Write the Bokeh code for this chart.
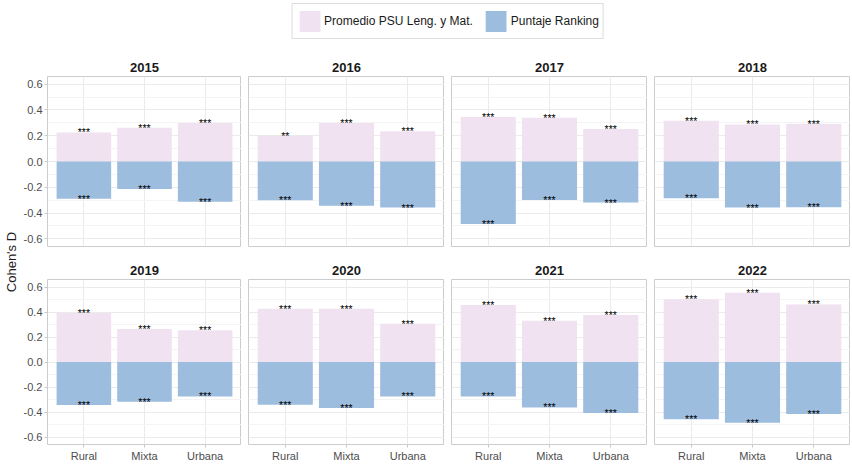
import math
from bokeh.plotting import figure
from bokeh.models import (Range1d, FactorRange, FixedTicker, CategoricalTicker, ColumnDataSource,
                          Legend, LegendItem, Label, NumeralTickFormatter)
from bokeh.layouts import row, column
from bokeh.core.properties import value
from bokeh.embed import file_html
from bokeh.resources import INLINE

# ---------------- data ----------------
categories = ["Rural", "Mixta", "Urbana"]
years = ["2015", "2016", "2017", "2018", "2019", "2020", "2021", "2022"]

# Promedio PSU Leng. y Mat. (positive Cohen's D), per year: Rural, Mixta, Urbana
psu_by_year = [
    [0.226, 0.262, 0.299],
    [0.200, 0.299, 0.234],
    [0.345, 0.340, 0.252],
    [0.317, 0.288, 0.293],
    [0.392, 0.265, 0.254],
    [0.426, 0.426, 0.307],
    [0.456, 0.331, 0.376],
    [0.503, 0.554, 0.461],
]
# Puntaje Ranking (negative Cohen's D)
ranking_by_year = [
    [-0.290, -0.213, -0.312],
    [-0.301, -0.343, -0.358],
    [-0.486, -0.299, -0.319],
    [-0.286, -0.358, -0.356],
    [-0.344, -0.318, -0.275],
    [-0.342, -0.368, -0.275],
    [-0.275, -0.363, -0.408],
    [-0.458, -0.485, -0.416],
]
psu_sig_by_year = [
    ["***", "***", "***"],
    ["**", "***", "***"],
    ["***", "***", "***"],
    ["***", "***", "***"],
    ["***", "***", "***"],
    ["***", "***", "***"],
    ["***", "***", "***"],
    ["***", "***", "***"],
]
ranking_sig_by_year = [["***", "***", "***"] for _ in years]

y_ticks = [-0.6, -0.4, -0.2, 0.0, 0.2, 0.4, 0.6]
y_tick_labels = ["-0.6", "-0.4", "-0.2", "0.0", "0.2", "0.4", "0.6"]
y_minor = [-0.5, -0.3, -0.1, 0.1, 0.3, 0.5]
series_names = ["Promedio PSU Leng. y Mat.", "Puntaje Ranking"]
y_label = "Cohen's D"

# ---------------- style ----------------
PINK = "#F0E2F0"
BLUE = "#9DBDDE"
FONT = "Liberation Sans"
GRID_MAJOR = "#EBEBEB"
GRID_MINOR = "#F4F4F4"
BORDER = "#CCCCCC"
TICK_TXT = "#4D4D4D"

FRAME_W = 196
GAP = 7
LEFT_AX = 25
YLAB_W = 20
LEG_H = 50
TOP_BORDER_1 = 26
TOP_BORDER_2 = 27
TOP_H = TOP_BORDER_1 + 170 + 6
BOT_H = TOP_BORDER_2 + 168 + 17


def make_panel(idx, left, bottom):
    w = (LEFT_AX if left else GAP) + FRAME_W
    h = BOT_H if bottom else TOP_H
    p = figure(width=w, height=h,
               x_range=FactorRange(factors=categories, range_padding=0.1,
                                   range_padding_units="absolute"),
               y_range=Range1d(-0.66, 0.66),
               output_backend="svg", toolbar_location=None,
               x_axis_location="below" if bottom else None,
               y_axis_location="left" if left else None,
               min_border_left=LEFT_AX if left else GAP, min_border_right=0,
               min_border_top=TOP_BORDER_2 if bottom else TOP_BORDER_1,
               min_border_bottom=17 if bottom else 6,
               title=years[idx])
    p.title.align = "center"
    p.title.text_font = FONT
    p.title.text_font_size = "13px"
    p.title.text_font_style = "bold"
    p.title.text_color = "#1A1A1A"
    p.title.standoff = 10
    p.outline_line_color = BORDER
    p.outline_line_width = 1
    p.background_fill_color = "white"
    p.border_fill_color = "white"

    p.ygrid.ticker = FixedTicker(ticks=y_ticks, minor_ticks=y_minor)
    p.ygrid.grid_line_color = GRID_MAJOR
    p.ygrid.minor_grid_line_color = GRID_MINOR
    p.xgrid.ticker = CategoricalTicker()
    p.xgrid.grid_line_color = GRID_MAJOR

    if left:
        ax = p.yaxis[0]
        ax.ticker = FixedTicker(ticks=y_ticks)
        ax.formatter = NumeralTickFormatter(format="0.0")
        ax.major_label_overrides = {t: l for t, l in zip(y_ticks, y_tick_labels)}
        ax.axis_line_color = None
        ax.major_tick_line_color = "#C8C8C8"
        ax.major_tick_out = 3
        ax.major_tick_in = 0
        ax.minor_tick_line_color = None
        ax.major_label_standoff = 2
        ax.major_label_text_font = FONT
        ax.major_label_text_font_size = "11px"
        ax.major_label_text_color = TICK_TXT
    if bottom:
        ax = p.xaxis[0]
        ax.axis_line_color = None
        ax.major_tick_line_color = "#C8C8C8"
        ax.major_tick_out = 3
        ax.major_tick_in = 0
        ax.major_label_standoff = 2
        ax.major_label_text_font = FONT
        ax.major_label_text_font_size = "11px"
        ax.major_label_text_color = TICK_TXT

    src = ColumnDataSource(dict(cat=categories, psu=psu_by_year[idx], rnk=ranking_by_year[idx],
                                psu_sig=psu_sig_by_year[idx], rnk_sig=ranking_sig_by_year[idx]))
    p.vbar(x="cat", top="psu", bottom=0, width=0.9, source=src,
           fill_color=PINK, line_color=None)
    p.vbar(x="cat", top=0, bottom="rnk", width=0.9, source=src,
           fill_color=BLUE, line_color=None)
    for col, sig in (("psu", "psu_sig"), ("rnk", "rnk_sig")):
        p.text(x="cat", y=col, text=sig, source=src, text_align="center",
               text_baseline="middle", text_font=value(FONT), text_font_size="10.5px",
               text_color="#000000")
    return p


panels = []
for i in range(len(years)):
    r, c = divmod(i, 4)
    panels.append(make_panel(i, left=(c == 0), bottom=(r == 1)))

# legend strip
total_w = YLAB_W + LEFT_AX + 4 * FRAME_W + 3 * GAP
leg = figure(width=total_w, height=LEG_H, x_range=Range1d(0, 1), y_range=Range1d(0, 1),
             output_backend="svg", toolbar_location=None,
             x_axis_location=None, y_axis_location=None,
             min_border_left=YLAB_W + LEFT_AX, min_border_right=0,
             min_border_top=0, min_border_bottom=0)
leg.grid.visible = False
leg.outline_line_color = None
# zero-height placeholder bars: only their colours feed the legend keys
r1 = leg.vbar(x=[0.5], top=[0], bottom=[0], width=0.1, fill_color=PINK, line_color=None)
r2 = leg.vbar(x=[0.5], top=[0], bottom=[0], width=0.1, fill_color=BLUE, line_color=None)
legend = Legend(items=[LegendItem(label=series_names[0], renderers=[r1]),
                       LegendItem(label=series_names[1], renderers=[r2])],
                orientation="horizontal", location="top_center", margin=3,
                padding=4, spacing=10, glyph_width=26, glyph_height=26, label_standoff=2,
                border_line_color="#BBBBBB", border_line_width=1,
                label_text_font=FONT, label_text_font_size="12px",
                label_text_color="#1A1A1A")
leg.add_layout(legend, "center")

# y-axis label strip
ylab = figure(width=YLAB_W, height=TOP_H + BOT_H, x_range=Range1d(0, 1), y_range=Range1d(0, 1),
              output_backend="svg", toolbar_location=None,
              x_axis_location=None, y_axis_location=None, min_border=0)
ylab.grid.visible = False
ylab.outline_line_color = None
ylab.add_layout(Label(x=0.55, y=0.489, text=y_label, angle=math.pi / 2,
                      text_align="center", text_baseline="middle",
                      text_font=FONT, text_font_size="13px", text_color="#1A1A1A"))

grid_col = column(row(*panels[:4], spacing=0), row(*panels[4:], spacing=0), spacing=0)
layout = column(leg, row(ylab, grid_col, spacing=0), spacing=0)

open("out.html", "w").write(file_html(layout, INLINE))
